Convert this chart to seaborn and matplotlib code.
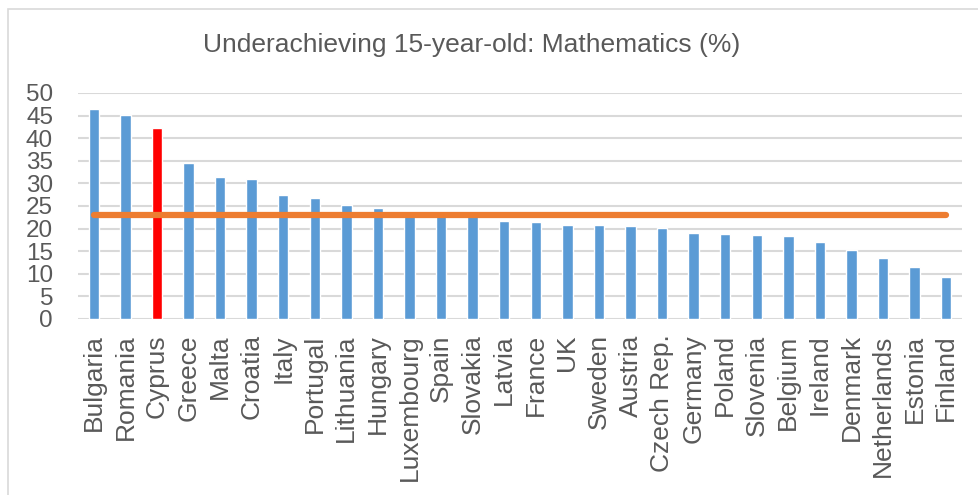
import matplotlib
matplotlib.use("Agg")
import matplotlib.pyplot as plt
import seaborn as sns
import pandas as pd
from matplotlib.patches import Rectangle

countries = ["Bulgaria", "Romania", "Cyprus", "Greece", "Malta", "Croatia", "Italy",
             "Portugal", "Lithuania", "Hungary", "Luxembourg", "Spain", "Slovakia",
             "Latvia", "France", "UK", "Sweden", "Austria", "Czech Rep.", "Germany",
             "Poland", "Slovenia", "Belgium", "Ireland", "Denmark", "Netherlands",
             "Estonia", "Finland"]
values = [46.4, 45.1, 42.2, 34.6, 31.3, 30.9, 27.5, 26.7, 25.2, 24.5, 23.4, 23.0, 22.9,
          21.6, 21.4, 20.9, 20.8, 20.5, 20.2, 19.0, 18.8, 18.5, 18.3, 17.1, 15.2, 13.4,
          11.5, 9.2]
eu_average = 23.0
highlight = "Cyprus"
title = "Underachieving 15-year-old: Mathematics (%)"
yticks = [0, 5, 10, 15, 20, 25, 30, 35, 40, 45, 50]

df = pd.DataFrame({"country": countries, "value": values})
df["avg"] = eu_average
palette = {c: ("#FF0000" if c == highlight else "#5B9BD5") for c in countries}

sns.set_theme(style="white")
plt.rcParams["font.family"] = ["Liberation Sans", "DejaVu Sans"]

fig = plt.figure(figsize=(9.79, 4.95), dpi=100)
ax = fig.add_axes([0.0797, 0.3556, 0.9029, 0.4566])

sns.barplot(data=df, x="country", y="value", hue="country", palette=palette,
            legend=False, width=0.33, saturation=1, ax=ax, zorder=2)
sns.lineplot(data=df, x="country", y="avg", color="#ED7D31", linewidth=4.5,
             sort=False, ax=ax, zorder=3, solid_capstyle="round")

ax.set_ylim(0, 50)
ax.set_xlim(-0.5, len(countries) - 0.5)
ax.set_yticks(yticks)
ax.set_yticklabels([str(t) for t in yticks])
ax.yaxis.grid(True, color="#D9D9D9", linewidth=1.5, zorder=0)
ax.set_axisbelow(True)
for s in ax.spines.values():
    s.set_visible(False)
ax.set_xlabel("")
ax.set_ylabel("")
ax.tick_params(axis="y", length=0, pad=18, labelsize=17.5, labelcolor="#595959")
ax.tick_params(axis="x", length=0, pad=11, labelsize=19, labelcolor="#595959",
               labelrotation=90)

fig.text(472 / 979, 1 - 45 / 495, title, ha="center", va="center",
         fontsize=19, color="#595959")

fig.patches.append(Rectangle((8 / 979, -0.1), 1.2, 1 - 9 / 495 + 0.1,
                             transform=fig.transFigure, fill=False,
                             edgecolor="#D9D9D9", linewidth=1.2))

fig.savefig("out.png", dpi=100)
